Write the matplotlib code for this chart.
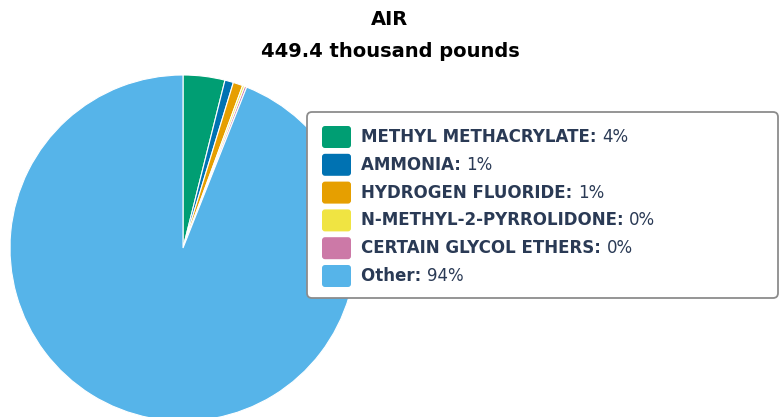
import matplotlib
matplotlib.use('Agg')
import matplotlib.pyplot as plt
from matplotlib.patches import FancyBboxPatch

# data
names = ['METHYL METHACRYLATE', 'AMMONIA', 'HYDROGEN FLUORIDE',
         'N-METHYL-2-PYRROLIDONE', 'CERTAIN GLYCOL ETHERS', 'Other']
values = [3.9, 0.8, 0.9, 0.2, 0.2, 94.0]
pct_labels = ['4%', '1%', '1%', '0%', '0%', '94%']
colors = ['#009E73', '#0072B2', '#E69F00', '#F0E442', '#CC79A7', '#56B4E9']
title_lines = ['AIR', '449.4 thousand pounds']

W, H = 780, 417
fig = plt.figure(figsize=(W / 100, H / 100), dpi=100)

# pie axes: square box in pixels, centre (183, 248), radius 173
cx, cy, r = 183, 248, 173
ax = fig.add_axes([(cx - r) / W, (H - cy - r) / H, 2 * r / W, 2 * r / H])
ax.pie(values, colors=colors, startangle=90, counterclock=False,
       wedgeprops=dict(edgecolor='white', linewidth=0.8))
ax.set_xlim(-1, 1)
ax.set_ylim(-1, 1)
ax.set_aspect('auto')
ax.axis('off')

# overlay for title and legend, pixel coords
ov = fig.add_axes([0, 0, 1, 1])
ov.set_xlim(0, W)
ov.set_ylim(H, 0)
ov.axis('off')

ov.text(W / 2, 19, title_lines[0], ha='center', va='center',
        fontsize=14, fontweight='bold', color='#000000')
ov.text(W / 2, 51, title_lines[1], ha='center', va='center',
        fontsize=14, fontweight='bold', color='#000000')

box = FancyBboxPatch((307, 112), 471, 186, boxstyle='round,pad=0,rounding_size=5',
                     facecolor='white', edgecolor='#8c8c8c', linewidth=1.3)
ov.add_patch(box)

txt_col = '#2a3a55'
fig.canvas.draw()
rend = fig.canvas.get_renderer()
inv = ov.transData.inverted()
y0, step = 137, 27.8
for i, (nm, pc, c) in enumerate(zip(names, pct_labels, colors)):
    y = y0 + i * step
    sw = FancyBboxPatch((322, y - 11), 29, 22, boxstyle='round,pad=0,rounding_size=3',
                        facecolor=c, edgecolor='none')
    ov.add_patch(sw)
    t = ov.text(361, y, nm + ': ', ha='left', va='center', fontsize=12,
                fontweight='bold', color=txt_col)
    bb = t.get_window_extent(renderer=rend)
    x_end = inv.transform((bb.x1, bb.y0))[0]
    ov.text(x_end, y, pc, ha='left', va='center', fontsize=12, color=txt_col)

fig.savefig('out.png', dpi=100)
